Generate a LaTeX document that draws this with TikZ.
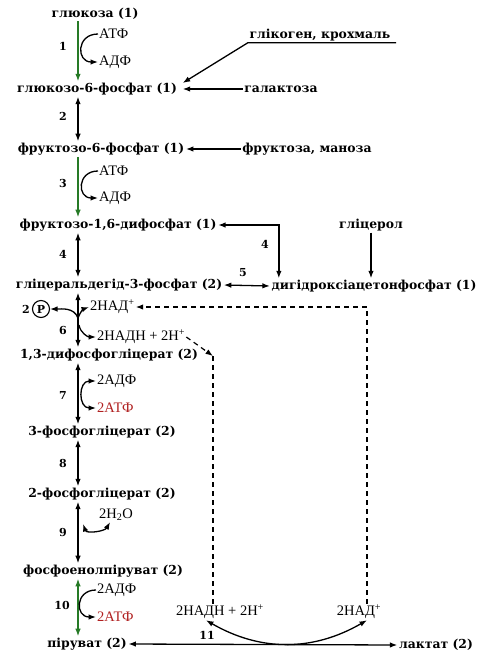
\documentclass[tikz,border=0pt]{standalone}
\usepackage{fontspec}
\setmainfont{Liberation Serif}
\newfontfamily\slabfont{DejaVu Serif}
\usepackage{tikz}
\usetikzlibrary{arrows.meta,positioning,calc}
\definecolor{enzgreen}{RGB}{38,122,38}
\definecolor{atpred}{RGB}{176,32,32}

\begin{document}
\begin{tikzpicture}[x=1pt, y=-1pt,
  met/.style={font=\slabfont\bfseries\fontsize{12.4}{14}\selectfont, inner sep=1.5pt},
  num/.style={font=\slabfont\bfseries\fontsize{11}{13}\selectfont, inner sep=1pt},
  cof/.style={font=\fontsize{14.5}{16}\selectfont, inner sep=1pt, anchor=west},
  arr/.style={-{Latex[length=7.5pt,width=5.5pt]}, line width=1.3pt},
  arr2/.style={{Latex[length=7.5pt,width=5.5pt]}-{Latex[length=7.5pt,width=5.5pt]}, line width=1.3pt},
  garr/.style={arr, enzgreen},
  garr2/.style={arr2, enzgreen},
  dsh/.style={line width=1.2pt, dash pattern=on 5pt off 4pt},
]
\useasboundingbox (0,0) rectangle (487,657);
\coordinate (ax) at (78,0);
% metabolites
\node[met] (glc) at (95,14) {глюкоза (1)};
\node[met] (g6p) at (97,89) {глюкозо-6-фосфат (1)};
\node[met] (glyc) at (320,35) {глікоген, крохмаль};
\node[met] (gal) at (281,89) {галактоза};
\node[met] (f6p) at (101,149) {фруктозо-6-фосфат (1)};
\node[met] (fru) at (307,149) {фруктоза, маноза};
\node[met] (f16) at (118,225) {фруктозо-1,6-дифосфат (1)};
\node[met] (glyl) at (371,225) {гліцерол};
\node[met] (gap) at (119,285) {гліцеральдегід-3-фосфат (2)};
\node[met] (dhap) at (374,286) {дигідроксіацетонфосфат (1)};
\node[met] (bpg) at (109,355) {1,3-дифосфогліцерат (2)};
\node[met] (pg3) at (102,432) {3-фосфогліцерат (2)};
\node[met] (pg2) at (102,494) {2-фосфогліцерат (2)};
\node[met] (pep) at (103,571) {фосфоенолпіруват (2)};
\node[met] (pyr) at (87,644) {піруват (2)};
\node[met] (lac) at (436,645) {лактат (2)};
% cofactors
\node[cof] (atp1) at (98,34) {АТФ};
\node[cof] (adp1) at (98,62) {АДФ};
\node[cof] (atp3) at (98,171) {АТФ};
\node[cof] (adp3) at (98,198) {АДФ};
\node[circle, draw, line width=1.1pt, minimum size=17pt, inner sep=0pt,
  font=\slabfont\bfseries\fontsize{11}{13}\selectfont] (P) at (41,309) {P};
\node[num, left=1pt of P] (p2) {2};
\node[cof] (nad) at (89,307) {2НАД\textsuperscript{+}};
\node[cof] (nadh) at (96,337) {2НАДН + 2Н\textsuperscript{+}};
\node[cof] (adp7) at (96,381) {2АДФ};
\node[cof, atpred] (atp7) at (96,408) {2АТФ};
\node[cof] (h2o) at (98,515) {2Н\textsubscript{2}О};
\node[cof] (adp10) at (96,590) {2АДФ};
\node[cof, atpred] (atp10) at (96,617) {2АТФ};
\node[cof, anchor=center] (nadh2) at (220,612) {2НАДН + 2Н\textsuperscript{+}};
\node[cof, anchor=center] (nad2) at (359,612) {2НАД\textsuperscript{+}};
% reaction numbers
\node[num] (n1) at (63,46) {1};
\node[num] (n2) at (63,116) {2};
\node[num] (n3) at (63,183) {3};
\node[num] (n4) at (63,254) {4};
\node[num] (n4b) at (265,244) {4};
\node[num] (n5) at (243,273) {5};
\node[num] (n6) at (63,330) {6};
\node[num] (n7) at (63,395) {7};
\node[num] (n8) at (63,463) {8};
\node[num] (n9) at (63,532) {9};
\node[num] (n10) at (62,605) {10};
\node[num] (n11) at (207,635) {11};
% main chain
\draw[garr] (glc.south -| ax) -- (g6p.north -| ax);
\draw[arr2] (g6p.south -| ax) -- (f6p.north -| ax);
\draw[garr] (f6p.south -| ax) -- (f16.north -| ax);
\draw[arr2] (f16.south -| ax) -- (gap.north -| ax);
\draw[arr2] (gap.south -| ax) -- (bpg.north -| ax);
\draw[arr2] (bpg.south -| ax) -- (pg3.north -| ax);
\draw[arr2] (pg3.south -| ax) -- (pg2.north -| ax);
\draw[arr2] (pg2.south -| ax) -- (pep.north -| ax);
\draw[garr2] (pep.south -| ax) -- (pyr.north -| ax);
% side entries
\draw[arr] ([xshift=4pt]glyc.south east) -- (glyc.south west) -- ([shift={(4pt,6pt)}]g6p.east);
\draw[arr] (gal.west) -- ([xshift=4pt]g6p.east);
\draw[arr] (fru.west) -- (f6p.east);
\draw[arr2] (f16.east) -| ([xshift=9pt]dhap.north west);
\draw[arr] (glyl.south) -- (glyl.south |- dhap.north);
\draw[arr2] (gap.east) -- (dhap.west);
% cofactor arcs
\draw[arr] (atp1.west) to[out=180, in=180, looseness=2] (adp1.west);
\draw[arr] (atp3.west) to[out=180, in=180, looseness=2] (adp3.west);
\coordinate (c6) at (78,318);
\coordinate (c6b) at (79,325);
\draw[arr] (c6) to[out=110, in=0] (P.east);
\draw[arr] (c6) to[out=70, in=200] (nad.west);
\draw[arr] (c6b) to[out=-80, in=180] (nadh.west);
\draw[arr2] (adp7.west) to[out=180, in=180, looseness=1.7] (atp7.west);
\coordinate (c9) at (83,524);
\draw[arr2] (c9) to[out=-70, in=-120] ([xshift=-6pt]h2o.south);
\draw[arr] (adp10.west) to[out=180, in=180, looseness=2] (atp10.west);
% NAD shuttle
\draw[dsh, -{Latex[length=7.5pt,width=5.5pt]}] ([xshift=8pt]nad2.north) |- (nad.east);
\coordinate (c7) at (213,356);
\draw[dsh, -{Latex[length=7.5pt,width=5.5pt]}] (nadh.east) -- (c7);
\draw[dsh] (c7) -- (c7 |- nadh2.north);
\draw[arr2] (pyr.east) -- (lac.west);
\draw[arr2] ([xshift=-14pt]nadh2.south) to[out=-30, in=-150] ([xshift=8pt]nad2.south);
\end{tikzpicture}
\end{document}
